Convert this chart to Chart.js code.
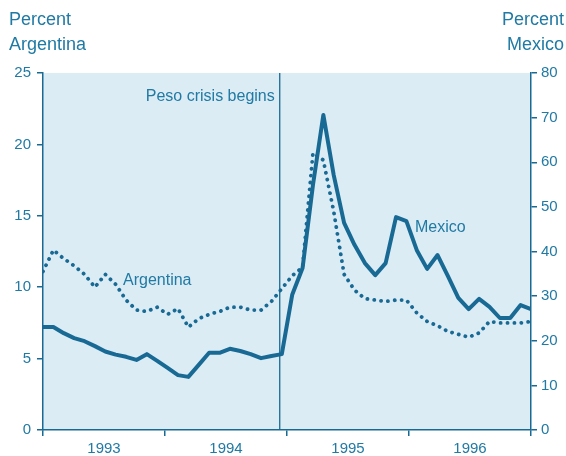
<!DOCTYPE html>
<html>
<head>
<meta charset="utf-8">
<script src="https://cdn.jsdelivr.net/npm/chart.js@4"></script>
<style>
  html, body { margin: 0; padding: 0; background: #fff; }
  #wrap { width: 566px; height: 456px; }
</style>
</head>
<body>
<div id="wrap"><canvas id="chart" width="566" height="456"></canvas></div>
<script>
const years = ['1993', '1994', '1995', '1996']
// monthly, Jan 1993 - Dec 1996
const mexico = [23.1, 23.1, 21.7, 20.6, 19.9, 18.8, 17.6, 16.9, 16.4, 15.7, 17.0, 15.5,
                13.9, 12.3, 11.9, 14.6, 17.3, 17.3, 18.2, 17.7, 17.0, 16.1, 16.6, 17.0,
                30.3, 36.3, 54.9, 70.6, 57.1, 46.4, 41.5, 37.4, 34.7, 37.4, 47.7, 46.8,
                40.3, 36.1, 39.2, 34.5, 29.6, 27.1, 29.4, 27.6, 25.1, 25.1, 28.0, 27.1]
const argentina = [11.1, 12.6, 12.0, 11.5, 10.9, 10.0, 10.9, 10.2, 9.1, 8.4, 8.3, 8.6,
                   8.1, 8.5, 7.2, 7.8, 8.1, 8.3, 8.6, 8.6, 8.4, 8.4, 9.0, 9.9,
                   10.8, 11.4, 19.4, 18.9, 15.3, 10.9, 9.8, 9.2, 9.1, 9.0, 9.1, 9.1,
                   8.2, 7.6, 7.3, 6.9, 6.7, 6.5, 6.8, 7.6, 7.5, 7.5, 7.5, 7.6]
const crisisMonth = 22.8
const leftTicks = [0, 5, 10, 15, 20, 25]
const rightTicks = [0, 10, 20, 30, 40, 50, 60, 70, 80]

const teal = 'rgb(24,106,148)';
const textTeal = 'rgb(32,122,164)';
const fontFam = '"Liberation Sans", Arial, sans-serif';
const lastMonth = mexico.length - 1;
const yearLen = lastMonth / years.length;

const ctx = document.getElementById('chart').getContext('2d');

const extras = {
    id: 'extras',
    beforeDraw(chart) {
        const a = chart.chartArea, c = chart.ctx;
        c.save();
        c.fillStyle = 'rgb(219,236,245)';
        c.fillRect(a.left, a.top, a.right - a.left, a.bottom - a.top);
        c.restore();
    },
    afterDatasetsDraw(chart) {
        const a = chart.chartArea, c = chart.ctx;
        const x = chart.scales.x.getPixelForValue(crisisMonth);
        c.save();
        c.strokeStyle = teal;
        c.lineWidth = 1.3;
        c.beginPath();
        c.moveTo(x, a.top);
        c.lineTo(x, a.bottom);
        c.stroke();

        c.fillStyle = textTeal;
        c.font = '16px ' + fontFam;
        c.textBaseline = 'middle';
        c.textAlign = 'right';
        c.fillText('Peso crisis begins', x - 5, 97);
        c.textAlign = 'left';
        c.fillText('Argentina', 123, 281);
        c.fillText('Mexico', 415, 228);

        c.font = '18px ' + fontFam;
        c.textAlign = 'left';
        c.fillText('Percent', 9, 20);
        c.fillText('Argentina', 9, 45);
        c.textAlign = 'right';
        c.fillText('Percent', 564, 20);
        c.fillText('Mexico', 564, 45);
        c.restore();
    }
};

new Chart(ctx, {
    type: 'line',
    data: {
        datasets: [{
            label: 'Mexico',
            data: mexico.map((v, i) => ({ x: i, y: v })),
            yAxisID: 'y1',
            borderColor: teal,
            borderWidth: 4,
            pointRadius: 0,
            tension: 0,
            borderJoinStyle: 'round'
        }, {
            label: 'Argentina',
            data: argentina.map((v, i) => ({ x: i, y: v })),
            yAxisID: 'y',
            borderColor: teal,
            borderWidth: 3.8,
            borderDash: [0.1, 6.8],
            borderCapStyle: 'round',
            pointRadius: 0,
            tension: 0
        }]
    },
    options: {
        responsive: false,
        animation: false,
        layout: { padding: { top: 73, left: 0, right: 0, bottom: 0 } },
        plugins: {
            legend: { display: false },
            tooltip: { enabled: false }
        },
        scales: {
            x: {
                type: 'linear',
                min: 0,
                max: lastMonth,
                afterBuildTicks: (scale) => {
                    const t = [];
                    for (let k = 0; k <= years.length * 2; k++) t.push({ value: k * yearLen / 2 });
                    scale.ticks = t;
                },
                afterFit: (scale) => { scale.height = 26; },
                border: { color: teal, width: 1.5 },
                grid: {
                    drawOnChartArea: false,
                    tickLength: 6,
                    lineWidth: 1.5,
                    color: (c) => (c.index % 2 === 0 ? teal : 'rgba(0,0,0,0)')
                },
                ticks: {
                    autoSkip: false,
                    maxRotation: 0,
                    padding: 4,
                    color: textTeal,
                    font: { family: fontFam, size: 15 },
                    callback: (v, i) => (i % 2 === 1 ? years[(i - 1) / 2] : '')
                }
            },
            y: {
                position: 'left',
                min: 0,
                max: 25,
                afterBuildTicks: (scale) => { scale.ticks = leftTicks.map(v => ({ value: v })); },
                afterFit: (scale) => { scale.width = 43; },
                border: { color: teal, width: 1.5 },
                grid: { drawOnChartArea: false, tickLength: 6, lineWidth: 1.5, color: teal },
                ticks: {
                    padding: 6,
                    color: textTeal,
                    font: { family: fontFam, size: 15 }
                }
            },
            y1: {
                position: 'right',
                min: 0,
                max: 80,
                afterBuildTicks: (scale) => { scale.ticks = rightTicks.map(v => ({ value: v })); },
                afterFit: (scale) => { scale.width = 35; },
                border: { color: teal, width: 1.5 },
                grid: { drawOnChartArea: false, tickLength: 6, lineWidth: 1.5, color: teal },
                ticks: {
                    padding: 4,
                    color: textTeal,
                    font: { family: fontFam, size: 15 }
                }
            }
        }
    },
    plugins: [extras]
});
</script>
</body>
</html>
